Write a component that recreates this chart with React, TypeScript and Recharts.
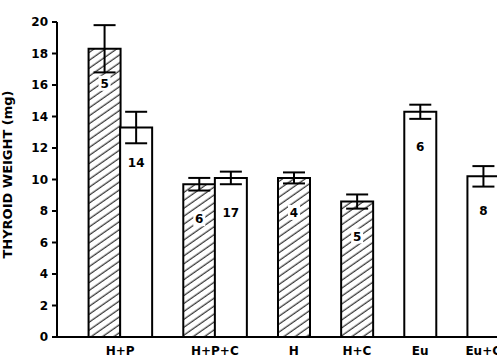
import { Bar, BarChart, Cell, ErrorBar, LabelList, XAxis, YAxis } from "recharts";

const groups = ["H+P", "H+P+C", "H", "H+C", "Eu", "Eu+C"];
const hatchedMean = [18.3, 9.7, 10.1, 8.6, null, null];
const hatchedErr = [1.5, 0.4, 0.35, 0.45, null, null];
const hatchedN = [5, 6, 4, 5, null, null];
const openMean = [13.3, 10.1, null, null, 14.3, 10.2];
const openErr = [1.0, 0.4, null, null, 0.45, 0.65];
const openN = [14, 17, null, null, 6, 8];
const yTicks = [0, 2, 4, 6, 8, 10, 12, 14, 16, 18, 20];

type Slot = {
  key: string;
  idx: number;
  value: number | null;
  err: number | null;
  n: number | null;
  kind: "hatched" | "open" | "gap";
};

// one slot per bar, with an empty slot between groups
const slots: Slot[] = [];
const centers: { pos: number; label: string }[] = [];
const pushSlot = (key: string, value: number | null, err: number | null, n: number | null, kind: Slot["kind"]) =>
  slots.push({ key, idx: slots.length, value, err, n, kind });

pushSlot("gap-start", null, null, null, "gap");
groups.forEach((g, i) => {
  const start = slots.length;
  if (hatchedMean[i] != null) pushSlot(`${g}-h`, hatchedMean[i], hatchedErr[i], hatchedN[i], "hatched");
  if (openMean[i] != null) pushSlot(`${g}-o`, openMean[i], openErr[i], openN[i], "open");
  centers.push({ pos: (start + slots.length) / 2, label: g });
  if (i < groups.length - 1) pushSlot(`gap-${i}`, null, null, null, "gap");
});

const FONT = "'DejaVu Sans', sans-serif";

function NLabel(props: any) {
  const { x, y, width, value } = props;
  if (value == null || value === "") return null;
  const cx = x + width / 2;
  const cy = y + 35;
  const w = String(value).length * 8 + 4;
  return (
    <g>
      <rect x={cx - w / 2} y={cy - 8} width={w} height={15} fill="#fff" />
      <text x={cx} y={cy} textAnchor="middle" dominantBaseline="central" fontFamily={FONT} fontWeight="bold" fontSize={12} fill="#000">
        {value}
      </text>
    </g>
  );
}

export default function App() {
  return (
    <div style={{ position: "absolute", left: 0, top: 0, width: 497, height: 361, overflow: "hidden", background: "#fff" }}>
      <svg width={0} height={0} style={{ position: "absolute" }}>
        <defs>
          <pattern id="hatch" width={8} height={6.5} patternUnits="userSpaceOnUse" patternTransform="rotate(-35)">
            <rect width={8} height={6.5} fill="#fff" />
            <line x1={0} y1={3} x2={8} y2={3} stroke="#000" strokeWidth={1} />
          </pattern>
        </defs>
      </svg>
      <BarChart
        width={499}
        height={361}
        data={slots}
        margin={{ top: 22, right: 0, bottom: 0, left: 0 }}
        barCategoryGap={0}
        barGap={0}
      >
        <XAxis xAxisId="slots" dataKey="key" hide padding={{ left: 0, right: 0 }} />
        <XAxis
          xAxisId="labels"
          dataKey="idx"
          type="number"
          domain={[0, slots.length]}
          ticks={centers.map((c) => c.pos)}
          interval={0}
          tickFormatter={(v: number) => centers.find((c) => c.pos === v)?.label ?? ""}
          tick={{ fill: "#000", fontSize: 12, fontWeight: "bold", fontFamily: FONT }}
          tickLine={false}
          tickMargin={3}
          height={24}
          axisLine={{ stroke: "#000", strokeWidth: 2 }}
        />
        <YAxis
          domain={[0, 20]}
          ticks={yTicks}
          width={57}
          interval={0}
          tick={{ fill: "#000", fontSize: 12, fontWeight: "bold", fontFamily: FONT }}
          tickLine={{ stroke: "#000", strokeWidth: 2 }}
          tickSize={5}
          tickMargin={4}
          axisLine={{ stroke: "#000", strokeWidth: 2 }}
          label={{
            value: "THYROID WEIGHT (mg)",
            angle: -90,
            position: "insideLeft",
            offset: 7,
            dy: -5,
            style: { fill: "#000", fontSize: 13, fontWeight: "bold", fontFamily: FONT, textAnchor: "middle" },
          }}
        />
        <Bar xAxisId="slots" dataKey="value" stroke="#000" strokeWidth={2} isAnimationActive={false}>
          {slots.map((s) => (
            <Cell key={s.key} fill={s.kind === "hatched" ? "url(#hatch)" : "#fff"} />
          ))}
          <ErrorBar dataKey="err" width={11} stroke="#000" strokeWidth={2} />
          <LabelList dataKey="n" content={<NLabel />} />
        </Bar>
      </BarChart>
    </div>
  );
}
